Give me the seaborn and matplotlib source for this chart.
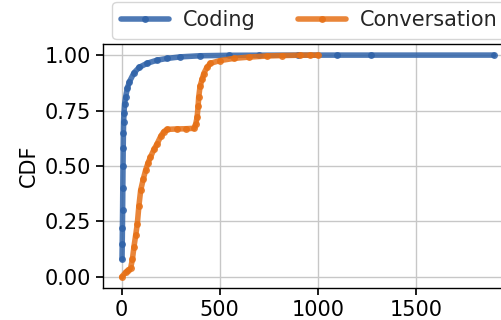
import matplotlib
matplotlib.use('Agg')
import matplotlib.pyplot as plt
import pandas as pd
import seaborn as sns

#=====Data=====
coding_x = [2, 3, 4, 5, 6, 7, 8, 9, 10, 12, 15, 20, 29, 40, 63, 90, 130, 180,
            232, 300, 400, 550, 700, 900, 1100, 1272, 1897]
coding_cdf = [0.08, 0.15, 0.22, 0.30, 0.40, 0.50, 0.58, 0.65, 0.70, 0.74, 0.78,
              0.81, 0.85, 0.88, 0.92, 0.945, 0.963, 0.977, 0.985, 0.992, 0.997,
              0.999, 0.9995, 0.9998, 0.9999, 0.9999, 1.0]

conv_x = [0, 20, 35, 46, 55, 63, 72, 80, 88, 97, 110, 122, 135, 147, 165, 181,
          200, 215, 232, 280, 330, 368, 378, 385, 390, 393, 400, 410, 419, 435,
          453, 500, 571, 650, 741, 820, 910, 960, 1000]
conv_cdf = [0.0, 0.02, 0.03, 0.04, 0.08, 0.137, 0.19, 0.24, 0.32, 0.39, 0.44,
            0.48, 0.515, 0.54, 0.575, 0.60, 0.635, 0.655, 0.665, 0.667, 0.668,
            0.67, 0.69, 0.72, 0.77, 0.81, 0.86, 0.89, 0.917, 0.945, 0.963, 0.975,
            0.985, 0.991, 0.996, 0.998, 0.9995, 0.9998, 1.0]

colors = {'Coding': '#2f62a8', 'Conversation': '#e67016'}

df = pd.concat([
    pd.DataFrame({'x': coding_x, 'cdf': coding_cdf, 'workload': 'Coding'}),
    pd.DataFrame({'x': conv_x, 'cdf': conv_cdf, 'workload': 'Conversation'}),
], ignore_index=True)

#=====Plot=====
sns.set_theme(style="ticks")
plt.rcParams['font.family'] = ['DejaVu Sans']

fig = plt.figure(figsize=(5.01, 3.2), dpi=100)
ax = fig.add_axes([0.2056, 0.1, 0.818, 0.7625])

sns.lineplot(data=df, x='x', y='cdf', hue='workload', palette=colors, ax=ax,
             estimator=None, sort=True, marker='o', markersize=5,
             markeredgewidth=0, linewidth=4, alpha=0.85)

ax.set_xlim(-95, 1995)
ax.set_ylim(-0.05, 1.05)
ax.set_xticks([0, 500, 1000, 1500])
ax.set_yticks([0, 0.25, 0.5, 0.75, 1.0])
ax.set_yticklabels(['0.00', '0.25', '0.50', '0.75', '1.00'])
ax.tick_params(labelsize=15, length=5, color='black', labelcolor='black')
ax.set_xlabel('')
ax.set_ylabel('CDF', fontsize=15, color='black')
ax.grid(True, color='0.78', linewidth=1)
for s in ax.spines.values():
    s.set_color('black')
    s.set_linewidth(1)

handles, labels = ax.get_legend_handles_labels()
ax.get_legend().remove()
fig.legend(handles, labels, loc='lower left', bbox_to_anchor=(0.216, 0.866),
           bbox_transform=fig.transFigure, ncol=2, fontsize=15,
           frameon=True, handlelength=2.3, columnspacing=2.0,
           handletextpad=0.7, borderaxespad=0.2)

plt.savefig('out.png', dpi=100)
print("Saved: out.png")
